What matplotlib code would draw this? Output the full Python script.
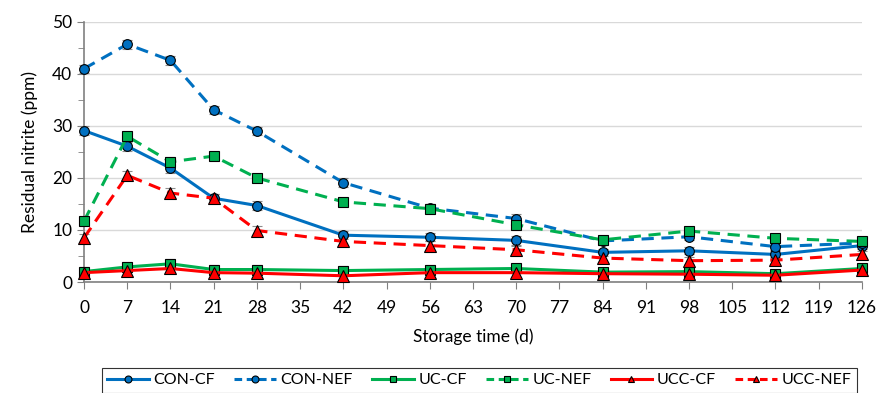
import matplotlib.pyplot as plt
from matplotlib.lines import Line2D
from matplotlib.ticker import MultipleLocator

plt.rcParams['font.family'] = ['Lato', 'DejaVu Sans']

days = [0, 7, 14, 21, 28, 42, 56, 70, 84, 98, 112, 126]
con_cf = [29.1, 26.1, 21.9, 16.1, 14.7, 9.0, 8.6, 8.0, 5.7, 6.0, 5.3, 7.0]
con_nef = [41.0, 45.7, 42.6, 33.1, 29.0, 19.1, 14.2, 12.2, 7.9, 8.7, 6.8, 7.5]
uc_cf = [2.0, 2.9, 3.5, 2.4, 2.4, 2.2, 2.4, 2.6, 1.9, 2.0, 1.6, 2.6]
uc_nef = [11.7, 28.0, 23.1, 24.2, 20.0, 15.4, 14.1, 11.0, 8.1, 9.8, 8.4, 7.8]
ucc_cf = [1.8, 2.2, 2.6, 1.8, 1.7, 1.2, 1.8, 1.8, 1.6, 1.5, 1.3, 2.3]
ucc_nef = [8.5, 20.5, 17.1, 16.1, 9.9, 7.8, 7.0, 6.2, 4.6, 4.1, 4.2, 5.3]
err = [0.8, 0.9, 0.9, 0.8, 0.8, 0.8, 0.8, 0.8, 0.7, 0.7, 0.7, 0.7]

blue = '#0070C0'
green = '#00B050'
red = '#FF0000'

series = [
    ('CON-CF', con_cf, blue, '-', 'o'),
    ('CON-NEF', con_nef, blue, '--', 'o'),
    ('UC-CF', uc_cf, green, '-', 's'),
    ('UC-NEF', uc_nef, green, '--', 's'),
    ('UCC-CF', ucc_cf, red, '-', '^'),
    ('UCC-NEF', ucc_nef, red, '--', '^'),
]

fig = plt.figure(figsize=(8.78, 3.93), dpi=100)
ax = fig.add_axes([0.0957, 0.2824, 0.886, 0.662])

handles = []
for name, vals, col, ls, mk in series:
    dash = (4, 2.5) if ls == '--' else (None, None)
    ms = 8 if mk == '^' else 7
    ax.errorbar(days, vals, yerr=err, color=col, linestyle=ls, linewidth=2.2,
                marker=mk, markersize=ms, markerfacecolor=col,
                markeredgecolor='black', markeredgewidth=0.8,
                ecolor='#8C8C8C', elinewidth=1.2, capsize=3.5, capthick=1.2,
                clip_on=False, zorder=3, dashes=dash)
    handles.append(Line2D([], [], color=col, linestyle=ls, linewidth=2.2, marker=mk,
                          markersize=5, markerfacecolor=col, markeredgecolor='black',
                          markeredgewidth=0.8, dashes=(2.5, 1.5) if ls == '--' else (None, None),
                          label=name))

ax.set_xlim(0, 126)
ax.set_ylim(0, 50)
ax.set_xticks(range(0, 127, 7))
ax.yaxis.set_major_locator(MultipleLocator(10))
ax.yaxis.set_minor_locator(MultipleLocator(5))
ax.grid(axis='y', color='#D9D9D9', linewidth=1, zorder=0)
ax.set_axisbelow(True)
for s in ['top', 'right']:
    ax.spines[s].set_visible(False)
for s in ['left', 'bottom']:
    ax.spines[s].set_color('#808080')
    ax.spines[s].set_linewidth(1.2)
ax.tick_params(axis='both', which='both', direction='out', color='#808080', labelsize=12.5)
ax.tick_params(axis='both', which='major', length=5)
ax.tick_params(axis='x', pad=8)
ax.tick_params(axis='y', which='minor', length=4)
ax.set_xlabel('Storage time (d)', fontsize=12.5, labelpad=9)
ax.set_ylabel('Residual nitrite (ppm)', fontsize=12.5, labelpad=10)

leg = fig.legend(handles=handles, loc='lower center', bbox_to_anchor=(0.546, -0.02), ncol=6,
                 fontsize=11.5, frameon=True, fancybox=False, edgecolor='black',
                 handlelength=2.6, handletextpad=0.3, columnspacing=1.2, borderpad=0.35)
leg.get_frame().set_linewidth(0.8)

fig.savefig('out.png', dpi=100)
